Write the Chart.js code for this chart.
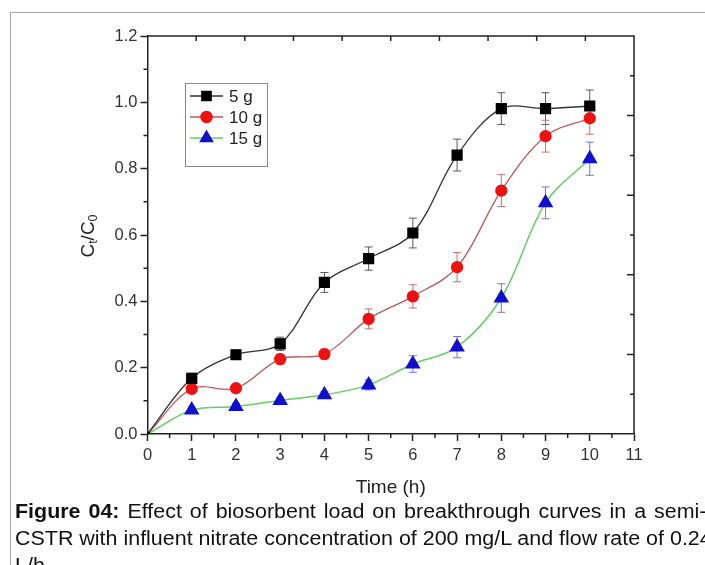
<!DOCTYPE html>
<html lang="en">
<head>
<meta charset="UTF-8">
<title>Figure 04 - Breakthrough curves</title>
<script src="https://cdn.jsdelivr.net/npm/chart.js"></script>
<style>
    body { margin: 0; background: #fff; }
    #page { position: relative; width: 705px; height: 565px; overflow: hidden; background: #fff; }
    .frame { position: absolute; left: 10px; top: 12px; width: 800px; height: 700px; border: 1px solid #a8a8a8; }
    .chart-box { position: absolute; left: 0; top: 0; width: 705px; height: 500px; }
    .caption { position: absolute; left: 15px; top: 498px; font-family: "Liberation Sans", Arial, sans-serif;
        font-size: 19.5px; line-height: 27px; color: #111; white-space: nowrap;
        transform: scaleX(1.1); transform-origin: 0 0; }
    .caption .wide { word-spacing: 1.8px; }
</style>
</head>
<body>
<div id="page">
    <div class="frame"></div>
    <div class="chart-box"><canvas id="breakChart"></canvas></div>
    <div class="caption">
        <span class="wide"><b>Figure 04:</b> Effect of biosorbent load on breakthrough curves in a semi-</span><br>
        CSTR with influent nitrate concentration of 200 mg/L and flow rate of 0.24<br>
        L/h
    </div>
</div>

<script>
// time points (h)
var times = [0, 1, 2, 3, 4, 5, 6, 7, 8, 9, 10];

// Ct/C0 for each biosorbent load
var load5g  = [0, 0.168, 0.239, 0.272, 0.457, 0.529, 0.606, 0.841, 0.981, 0.981, 0.989];
var load10g = [0, 0.136, 0.138, 0.226, 0.241, 0.347, 0.415, 0.503, 0.734, 0.898, 0.952];
var load15g = [0, 0.072, 0.083, 0.101, 0.118, 0.148, 0.211, 0.262, 0.410, 0.697, 0.830];

// error bars (+/-)
var err5g  = [0, 0.015, 0.012, 0.02, 0.03, 0.035, 0.045, 0.048, 0.048, 0.048, 0.048];
var err10g = [0, 0.012, 0.012, 0.015, 0.015, 0.03, 0.035, 0.044, 0.048, 0.048, 0.048];
var err15g = [0, 0.01, 0.01, 0.01, 0.01, 0.015, 0.025, 0.032, 0.043, 0.048, 0.05];

var seriesLabels = ['5 g', '10 g', '15 g'];
var xTicks = [0, 1, 2, 3, 4, 5, 6, 7, 8, 9, 10, 11];
var yTicks = [0, 0.2, 0.4, 0.6, 0.8, 1.0, 1.2];

function toPoints(ys) {
    return times.map(function(t, i) { return { x: t, y: ys[i] }; });
}

var axisFont = { family: '"Liberation Sans", Arial, sans-serif', size: 16.5 };

// frame, extra ticks, y title, error bars and the boxed legend
var extras = {
    id: 'extras',
    beforeDatasetsDraw: function(chart) {
        var ctx = chart.ctx, xs = chart.scales.x, ys = chart.scales.y;
        var errs = [err5g, err10g, err15g];
        var cols = ['#5a5a5a', '#c27070', '#7474d4'];
        ctx.save();
        ctx.lineWidth = 1;
        chart.data.datasets.forEach(function(ds, d) {
            ctx.strokeStyle = cols[d];
            ds.data.forEach(function(p, i) {
                var e = errs[d][i];
                if (!e) return;
                var px = xs.getPixelForValue(p.x);
                var top = ys.getPixelForValue(p.y + e), bot = ys.getPixelForValue(p.y - e);
                ctx.beginPath();
                ctx.moveTo(px, top); ctx.lineTo(px, bot);
                ctx.moveTo(px - 4, top); ctx.lineTo(px + 4, top);
                ctx.moveTo(px - 4, bot); ctx.lineTo(px + 4, bot);
                ctx.stroke();
            });
        });
        ctx.restore();
    },
    afterDraw: function(chart) {
        var ctx = chart.ctx, a = chart.chartArea, xs = chart.scales.x, ys = chart.scales.y;
        ctx.save();
        ctx.strokeStyle = '#222';
        ctx.lineWidth = 1.5;
        ctx.beginPath();
        ctx.moveTo(a.left, a.top); ctx.lineTo(a.right, a.top); ctx.lineTo(a.right, a.bottom);
        // minor ticks bottom (outward)
        for (var v = 0.5; v < 11; v += 1) {
            var px = xs.getPixelForValue(v);
            ctx.moveTo(px, a.bottom); ctx.lineTo(px, a.bottom + 4);
        }
        // minor ticks left (outward)
        for (var k = 1; k < 12; k += 2) {
            var py = ys.getPixelForValue(k / 10);
            ctx.moveTo(a.left, py); ctx.lineTo(a.left - 4, py);
        }
        // top ticks (inward)
        for (var j = 1; j < 10; j++) {
            var tx = a.left + (a.right - a.left) * j / 10;
            ctx.moveTo(tx, a.top); ctx.lineTo(tx, a.top + 5);
        }
        // right ticks (inward)
        for (var m = 1; m < 10; m++) {
            var ty = a.bottom - (a.bottom - a.top) * m / 10;
            ctx.moveTo(a.right, ty); ctx.lineTo(a.right - (m % 2 ? 4 : 7), ty);
        }
        ctx.stroke();

        // y axis title C_t/C_0
        ctx.translate(89, 236);
        ctx.rotate(-Math.PI / 2);
        ctx.fillStyle = '#222';
        ctx.textBaseline = 'middle';
        var big = '19px "Liberation Sans", Arial, sans-serif', small = '12.5px "Liberation Sans", Arial, sans-serif';
        var parts = [['C', big, 0], ['t', small, 5], ['/C', big, 0], ['0', small, 5]];
        var w = 0;
        parts.forEach(function(p) { ctx.font = p[1]; w += ctx.measureText(p[0]).width; });
        var cx = -w / 2;
        parts.forEach(function(p) {
            ctx.font = p[1];
            ctx.fillText(p[0], cx, p[2]);
            cx += ctx.measureText(p[0]).width;
        });
        ctx.restore();

        // legend box
        ctx.save();
        ctx.strokeStyle = '#8a8a8a';
        ctx.lineWidth = 1;
        ctx.strokeRect(185.5, 83.5, 82, 83);
        ctx.font = '17px "Liberation Sans", Arial, sans-serif';
        ctx.textBaseline = 'middle';
        chart.data.datasets.forEach(function(ds, d) {
            var ly = 96 + d * 21;
            ctx.strokeStyle = ds.borderColor;
            ctx.lineWidth = 1.5;
            ctx.beginPath(); ctx.moveTo(190, ly); ctx.lineTo(223, ly); ctx.stroke();
            ctx.fillStyle = ds.pointBackgroundColor;
            ctx.strokeStyle = ds.pointBackgroundColor;
            Chart.helpers.drawPoint(ctx, { pointStyle: ds.pointStyle, radius: ds.legendRadius, borderWidth: 1 }, 206.5, ly);
            ctx.fillStyle = '#222';
            ctx.fillText(ds.label, 229, ly + 1);
        });
        ctx.restore();
    }
};

// small marker at the origin, full size elsewhere
function sizeAt(r) {
    return function(c) { return c.dataIndex === 0 ? 2 : r; };
}

var datasets = [
    { label: seriesLabels[0], data: toPoints(load5g), borderColor: '#333333', borderWidth: 1.3,
      pointStyle: 'rect', pointRadius: sizeAt(7), legendRadius: 6.5,
      pointBackgroundColor: '#000000', pointBorderColor: '#000000' },
    { label: seriesLabels[1], data: toPoints(load10g), borderColor: '#b85a58', borderWidth: 1.3,
      pointStyle: 'circle', pointRadius: sizeAt(5.5), legendRadius: 5.5,
      pointBackgroundColor: '#ee1111', pointBorderColor: '#ee1111' },
    { label: seriesLabels[2], data: toPoints(load15g), borderColor: '#66cc66', borderWidth: 1.5,
      pointStyle: 'triangle', pointRadius: sizeAt(7.5), legendRadius: 7,
      pointBackgroundColor: '#1010cc', pointBorderColor: '#1010cc' }
];
datasets.forEach(function(ds) { ds.tension = 0.35; ds.fill = false; });

new Chart(document.getElementById('breakChart'), {
    type: 'line',
    data: { datasets: datasets },
    plugins: [extras],
    options: {
        responsive: true,
        maintainAspectRatio: false,
        animation: false,
        layout: { padding: { top: 36, right: 71, left: 0, bottom: 0 } },
        plugins: { legend: { display: false }, tooltip: { enabled: false } },
        scales: {
            x: {
                type: 'linear', min: 0, max: 11,
                afterFit: function(s) { s.height = 66; },
                afterBuildTicks: function(s) { s.ticks = xTicks.map(function(v) { return { value: v }; }); },
                ticks: { color: '#333', font: axisFont, padding: 5, maxRotation: 0 },
                grid: { drawOnChartArea: false, tickLength: 7, tickColor: '#222', tickWidth: 1.5 },
                border: { color: '#222', width: 1.5 },
                title: { display: true, text: 'Time (h)', color: '#222',
                    font: { family: '"Liberation Sans", Arial, sans-serif', size: 19 }, padding: { top: 2, bottom: 1 } }
            },
            y: {
                min: 0, max: 1.2,
                afterFit: function(s) { s.width = 147.5; },
                afterBuildTicks: function(s) { s.ticks = yTicks.map(function(v) { return { value: v }; }); },
                ticks: { color: '#333', font: axisFont, padding: 3,
                    callback: function(v) { return v.toFixed(1); } },
                grid: { drawOnChartArea: false, tickLength: 7, tickColor: '#222', tickWidth: 1.5 },
                border: { color: '#222', width: 1.5 }
            }
        }
    }
});
</script>
</body>
</html>
